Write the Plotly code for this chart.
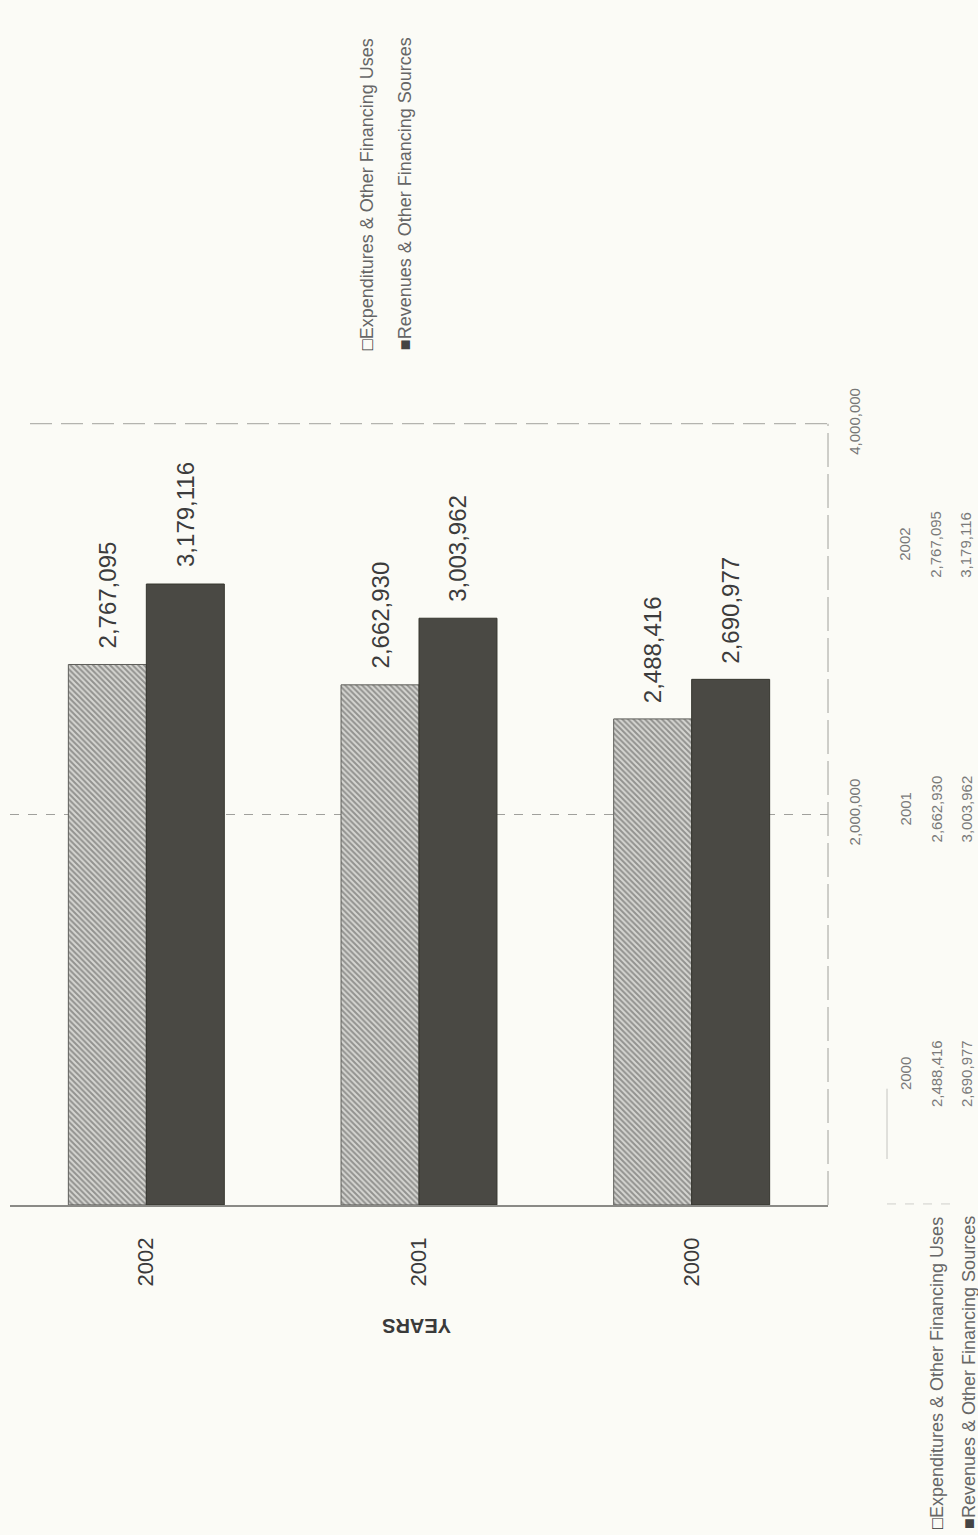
import plotly.graph_objects as go

# ---- data -------------------------------------------------------------
years = ["2000", "2001", "2002"]
expenditures = [2488416, 2662930, 2767095]
revenues = [2690977, 3003962, 3179116]
series_names = ["Expenditures & Other Financing Uses",
                "Revenues & Other Financing Sources"]
value_ticks = [2000000, 4000000]
axis_title = "YEARS"
category_order = ["2002", "2001", "2000"]

# ---- page geometry (pixels of the 978 x 1535 page) ---------------------
W, H = 978, 1535


def px(x):
    return x / W


def py(y):
    return 1 - y / H


PLOT_L, PLOT_R, PLOT_T, PLOT_B = 10, 828, 397, 1197
BG = "#fbfbf6"
FONT = "Liberation Sans, Arial, sans-serif"
HATCH_FG, HATCH_BG = "#4e4e4c", "#d6d6d2"
DARK = "#4a4944"
LABEL_SIZE = 24

fig = go.Figure()
fig.add_trace(go.Bar(
    x=years, y=expenditures, name=series_names[0],
    marker=dict(color=HATCH_BG,
                pattern=dict(shape="\\", fgcolor=HATCH_FG, bgcolor=HATCH_BG,
                             size=4, solidity=0.5),
                line=dict(color="#5e5e5a", width=1)),
))
fig.add_trace(go.Bar(
    x=years, y=revenues, name=series_names[1],
    marker=dict(color=DARK, line=dict(color="#36362f", width=1)),
))

annotations = []
# value labels above the bars, written bottom-to-top
# (category axes take annotation x as the category's index)
half_len = 0.5 * LABEL_SIZE * (7 * 0.556 + 2 * 0.278)
for vals, shift in ((expenditures, -39), (revenues, 39)):
    for yr, v in zip(years, vals):
        annotations.append(dict(
            x=category_order.index(yr), y=v, xref="x", yref="y",
            xshift=shift, yshift=16 + half_len,
            text=f"{v:,}", textangle=-90, showarrow=False,
            xanchor="center", yanchor="middle",
            font=dict(family=FONT, size=LABEL_SIZE, color="#3c3c3c"),
        ))

# axis title, upside down
annotations.append(dict(
    x=px(417), y=py(1321), xref="paper", yref="paper",
    text=f"<b>{axis_title}</b>", textangle=180, showarrow=False,
    xanchor="center", yanchor="middle",
    font=dict(family=FONT, size=20, color="#3a3a3a"),
))

# legends (drawn twice on the page)
marks = ['<span style="color:#333">□</span>', '<span style="color:#444">■</span>']


def legend_block(x_cols, y_mid):
    for xc, mark, name in zip(x_cols, marks, series_names):
        annotations.append(dict(
            x=px(xc), y=py(y_mid), xref="paper", yref="paper",
            text=mark + name, textangle=-90, showarrow=False,
            xanchor="center", yanchor="middle",
            font=dict(family=FONT, size=18, color="#666"),
        ))


legend_block([367, 405], 162)
legend_block([937, 969], 1369)

# data table beside the value axis
table_rows = {"2002": 521, "2001": 792, "2000": 1063}
for yr, e, r in zip(years, expenditures, revenues):
    yc = table_rows[yr]
    for xc, txt in ((905, yr), (936, f"{e:,}"), (966, f"{r:,}")):
        annotations.append(dict(
            x=px(xc), y=py(yc), xref="paper", yref="paper",
            text=txt, textangle=-90, showarrow=False,
            xanchor="center", yanchor="middle",
            font=dict(family=FONT, size=15, color="#7a7a7a"),
        ))

shapes = [
    # faint table rules
    dict(type="line", xref="paper", yref="paper",
         x0=px(887), x1=px(887), y0=py(1078), y1=py(1150),
         line=dict(color="#c4c4c0", width=1)),
    dict(type="line", xref="paper", yref="paper",
         x0=px(887), x1=px(955), y0=py(1196), y1=py(1196),
         line=dict(color="#cfcfcb", width=1, dash="dash")),
    # outer edges of the plot area
    dict(type="line", xref="paper", yref="paper",
         x0=px(PLOT_R), x1=px(PLOT_R), y0=py(PLOT_B), y1=py(PLOT_T),
         line=dict(color="#b0b0ab", width=1.2, dash="34px,7px")),
    dict(type="line", xref="paper", yref="paper",
         x0=px(30), x1=px(PLOT_R), y0=py(PLOT_T), y1=py(PLOT_T),
         line=dict(color="#b4b4af", width=1.2, dash="22px,9px")),
]

fig.update_layout(
    width=W, height=H,
    margin=dict(l=0, r=0, t=0, b=0),
    paper_bgcolor=BG, plot_bgcolor=BG,
    barmode="group", bargap=0.428, bargroupgap=0,
    showlegend=False,
    annotations=annotations,
    shapes=shapes,
    xaxis=dict(
        type="category",
        domain=[px(PLOT_L), px(PLOT_R)],
        categoryorder="array", categoryarray=category_order,
        range=[-0.5, 2.5],
        tickangle=-90, ticks="", ticklabelstandoff=22,
        tickfont=dict(family=FONT, size=22, color="#3a3a3a"),
        showline=True, linecolor="#8a8a86", linewidth=1.5,
        showgrid=False, zeroline=False,
    ),
    yaxis=dict(
        domain=[py(PLOT_B), py(PLOT_T)],
        range=[0, 4000000], side="right",
        tickvals=value_ticks, tickformat=",", tickangle=-90,
        ticks="", ticklabelstandoff=16,
        tickfont=dict(family=FONT, size=15, color="#777"),
        showgrid=True, gridcolor="#a0a09c", griddash="dash", gridwidth=1,
        showline=False, zeroline=False,
    ),
)

fig.write_html("out.html", post_script="document.body.style.margin = '0';")
